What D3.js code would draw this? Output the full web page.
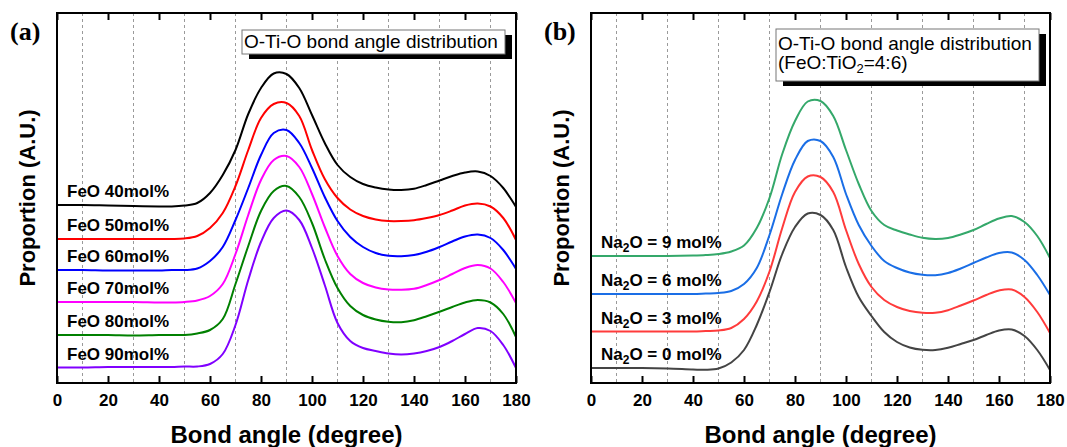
<!doctype html>
<html>
  <head>
    <meta charset="utf-8">
    <title>O-Ti-O bond angle distribution</title>
    <script src="https://cdnjs.cloudflare.com/ajax/libs/d3/7.8.5/d3.min.js"></script>
    <style>
      body { margin: 0; background: #fff; }
      svg { display: block; font-family: "Liberation Sans", Arial, sans-serif; }
    </style>
  </head>
  <body>
    <div id="chart"></div>
    <script>
      // bond angle (degree) where the curves were read
      const angles = [0, 10, 20, 30, 40, 45, 50, 55, 60, 65, 70, 75, 80, 85, 90, 95, 100,
                      105, 110, 115, 120, 125, 130, 135, 140, 145, 150, 155, 160, 165, 170, 175, 180];

      // panel (a): FeO content, curves already stacked (A.U.)
      const feo40 = [17.8, 17.8, 17.75, 17.7, 17.65, 17.65, 17.75, 18.0, 19.0, 20.8, 23.3, 26.9, 29.5, 30.95, 30.9, 29.5, 26.8,
                     24.0, 21.8, 20.6, 19.9, 19.55, 19.35, 19.3, 19.42, 19.8, 20.25, 20.7, 21.05, 21.15, 20.7, 19.5, 17.6];
      const feo50 = [14.4, 14.4, 14.4, 14.4, 14.4, 14.4, 14.45, 14.7, 15.5, 17.0, 19.7, 23.3, 26.5, 27.9, 28.0, 26.7, 23.3,
                     20.4, 18.5, 17.35, 16.7, 16.35, 16.2, 16.2, 16.28, 16.5, 16.8, 17.25, 17.75, 17.95, 17.65, 16.5, 14.3];
      const feo60 = [11.3, 11.3, 11.25, 11.25, 11.25, 11.3, 11.3, 11.45, 12.2, 13.6, 16.3, 19.5, 22.8, 25.0, 25.3, 24.0, 21.5,
                     18.6, 16.2, 14.6, 13.6, 13.0, 12.72, 12.68, 12.8, 13.12, 13.6, 14.15, 14.65, 14.85, 14.5, 13.3, 11.4];
      const feo70 = [8.1, 8.1, 8.1, 8.1, 8.05, 8.05, 8.1, 8.25, 8.7, 9.9, 12.9, 16.8, 20.3, 22.3, 22.7, 21.6, 18.9,
                     15.6, 12.7, 10.9, 10.0, 9.55, 9.35, 9.32, 9.42, 9.8, 10.3, 10.9, 11.5, 11.8, 11.45, 10.1, 8.0];
      const feo80 = [4.8, 4.8, 4.8, 4.75, 4.8, 4.8, 4.8, 4.95, 5.3, 6.4, 9.9, 13.7, 17.2, 19.2, 19.7, 18.6, 16.0,
                     12.4, 9.5, 7.7, 6.8, 6.35, 6.12, 6.08, 6.28, 6.68, 7.12, 7.6, 8.05, 8.3, 8.05, 6.9, 4.6];
      const feo90 = [1.55, 1.55, 1.6, 1.6, 1.6, 1.6, 1.65, 1.65, 1.9, 2.9, 5.8, 10.3, 14.1, 16.5, 17.25, 16.3, 13.5,
                     9.8, 6.0, 4.2, 3.5, 3.2, 2.95, 2.85, 2.95, 3.2, 3.6, 4.2, 4.9, 5.5, 5.2, 3.8, 1.5];

      // panel (b): Na2O content at FeO:TiO2 = 4:6
      const na9 = [12.7, 12.7, 12.7, 12.7, 12.75, 12.8, 12.9, 13.15, 13.75, 15.5, 18.5, 22.9, 26.2, 28.15, 28.2, 26.7, 23.3,
                   19.9, 17.2, 15.8, 15.25, 14.85, 14.52, 14.4, 14.5, 14.85, 15.3, 15.9, 16.45, 16.7, 16.1, 14.7, 12.5];
      const na6 = [8.9, 8.9, 8.9, 8.9, 8.9, 8.95, 9.0, 9.2, 9.9, 11.5, 14.8, 18.9, 22.3, 24.2, 24.2, 22.6, 18.9,
                   15.8, 13.7, 12.2, 11.5, 11.05, 10.82, 10.78, 11.0, 11.45, 12.0, 12.55, 13.0, 13.05, 12.3, 10.8, 8.8];
      const na3 = [5.15, 5.15, 5.15, 5.15, 5.15, 5.2, 5.25, 5.5, 6.4, 8.15, 11.15, 15.5, 19.1, 20.65, 20.6, 19.1, 15.3,
                   11.9, 9.6, 8.3, 7.6, 7.2, 7.02, 7.02, 7.28, 7.75, 8.25, 8.8, 9.25, 9.35, 8.6, 7.1, 5.0];
      const na0 = [1.5, 1.5, 1.5, 1.45, 1.35, 1.32, 1.45, 2.05, 3.3, 5.8, 9.1, 12.9, 15.6, 16.95, 16.8, 15.3, 11.6,
                   8.6, 6.7, 5.1, 4.1, 3.55, 3.32, 3.3, 3.52, 3.9, 4.3, 4.8, 5.25, 5.35, 4.7, 3.3, 1.3];

      const labelsA = ['FeO 40mol%', 'FeO 50mol%', 'FeO 60mol%', 'FeO 70mol%', 'FeO 80mol%', 'FeO 90mol%'];
      const labelsB = ['9', '6', '3', '0'];   // Na2O = x mol%
      const xTicks = [0, 20, 40, 60, 80, 100, 120, 140, 160, 180];
      const xGrid = [10, 30, 50, 70, 90, 110, 130, 150, 170];

      const colorsA = ['#000000', '#ff0000', '#0000ff', '#ff00ff', '#008000', '#8000ff'];
      const colorsB = ['#34a86a', '#1a6ee6', '#ff3b3b', '#444444'];

      const W = 1067, H = 447;
      const plotTop = 13, plotBottom = 383;

      const svg = d3.select('#chart').append('svg')
        .attr('width', W)
        .attr('height', H);

      svg.append('rect').attr('width', W).attr('height', H).attr('fill', '#fff');

      function drawPanel(opts) {
        const x = d3.scaleLinear().domain([0, 180]).range([opts.left, opts.right]);
        const y = d3.scaleLinear().domain([0, 37]).range([plotBottom, plotTop]);
        const g = svg.append('g');

        // dashed grid
        g.selectAll('.grid')
          .data(xGrid)
          .join('line')
          .attr('x1', d => x(d)).attr('x2', d => x(d))
          .attr('y1', plotTop).attr('y2', plotBottom)
          .attr('stroke', '#9a9a9a')
          .attr('stroke-width', 1)
          .attr('stroke-dasharray', '3,3');

        // curves
        const line = d3.line()
          .x((d, i) => x(angles[i]))
          .y(d => y(d))
          .curve(d3.curveCatmullRom);

        g.selectAll('.curve')
          .data(opts.series)
          .join('path')
          .attr('d', d => line(d))
          .attr('fill', 'none')
          .attr('stroke', (d, i) => opts.colors[i])
          .attr('stroke-width', 2);

        // labels on the curves
        opts.series.forEach((s, i) => {
          const t = g.append('text')
            .attr('x', opts.left + 10)
            .attr('y', y(s[0]) - 8)
            .style('font-size', '17px')
            .style('font-weight', 'bold');
          opts.label(t, i);
        });

        // axes
        const xb = d3.axisBottom(x).tickValues(xTicks).tickSizeInner(-7).tickSizeOuter(0).tickPadding(11);
        const ax = g.append('g').attr('transform', `translate(0,${plotBottom})`).call(xb);
        ax.select('.domain').remove();
        ax.selectAll('line').attr('stroke', '#000').attr('stroke-width', 2);
        ax.selectAll('text')
          .style('font-size', '17px')
          .style('font-weight', 'bold')
          .style('font-family', '"Liberation Sans", Arial, sans-serif')
          .attr('fill', '#000');

        const xt = d3.axisTop(x).tickValues(xTicks).tickSizeInner(-7).tickSizeOuter(0).tickFormat('');
        const at = g.append('g').attr('transform', `translate(0,${plotTop})`).call(xt);
        at.select('.domain').remove();
        at.selectAll('line').attr('stroke', '#000').attr('stroke-width', 2);

        // frame
        g.append('rect')
          .attr('x', opts.left).attr('y', plotTop)
          .attr('width', opts.right - opts.left).attr('height', plotBottom - plotTop)
          .attr('fill', 'none')
          .attr('stroke', '#000')
          .attr('stroke-width', 2);

        // axis titles
        g.append('text')
          .attr('x', (opts.left + opts.right) / 2)
          .attr('y', 443)
          .attr('text-anchor', 'middle')
          .style('font-size', '24px')
          .style('font-weight', 'bold')
          .text('Bond angle (degree)');

        g.append('text')
          .attr('transform', `translate(${opts.left - 22},${(plotTop + plotBottom) / 2}) rotate(-90)`)
          .attr('text-anchor', 'middle')
          .style('font-size', '22px')
          .style('font-weight', 'bold')
          .text('Proportion (A.U.)');

        // panel letter
        g.append('text')
          .attr('x', opts.left - 47)
          .attr('y', 40)
          .style('font-family', '"Liberation Serif", "Times New Roman", serif')
          .style('font-size', '26px')
          .style('font-weight', 'bold')
          .text(opts.letter);

        // title box with shadow
        const bx = opts.box;
        g.append('rect')
          .attr('x', bx.x + 7).attr('y', bx.y + 5)
          .attr('width', bx.w).attr('height', bx.h)
          .attr('fill', '#000');
        g.append('rect')
          .attr('x', bx.x).attr('y', bx.y)
          .attr('width', bx.w).attr('height', bx.h)
          .attr('fill', '#fff')
          .attr('stroke', '#777')
          .attr('stroke-width', 1);
        opts.boxText(g, bx);
      }

      drawPanel({
        left: 57, right: 516,
        letter: '(a)',
        series: [feo40, feo50, feo60, feo70, feo80, feo90],
        colors: colorsA,
        label: (t, i) => t.text(labelsA[i]),
        box: { x: 242, y: 30, w: 263, h: 24 },
        boxText: (g, bx) => {
          g.append('text')
            .attr('x', bx.x + 2).attr('y', bx.y + 18)
            .style('font-size', '19px')
            .text('O-Ti-O bond angle distribution');
        }
      });

      drawPanel({
        left: 591, right: 1050,
        letter: '(b)',
        series: [na9, na6, na3, na0],
        colors: colorsB,
        label: (t, i) => {
          t.append('tspan').text('Na');
          t.append('tspan').attr('dy', 4).style('font-size', '12px').text('2');
          t.append('tspan').attr('dy', -4).text('O = ' + labelsB[i] + ' mol%');
        },
        box: { x: 776, y: 29, w: 263, h: 52 },
        boxText: (g, bx) => {
          g.append('text')
            .attr('x', bx.x + 2).attr('y', bx.y + 21)
            .style('font-size', '19px')
            .text('O-Ti-O bond angle distribution');
          const t2 = g.append('text')
            .attr('x', bx.x + 2).attr('y', bx.y + 40)
            .style('font-size', '19px');
          t2.append('tspan').text('(FeO:TiO');
          t2.append('tspan').attr('dy', 4).style('font-size', '13px').text('2');
          t2.append('tspan').attr('dy', -4).text('=4:6)');
        }
      });
    </script>
  </body>
</html>
